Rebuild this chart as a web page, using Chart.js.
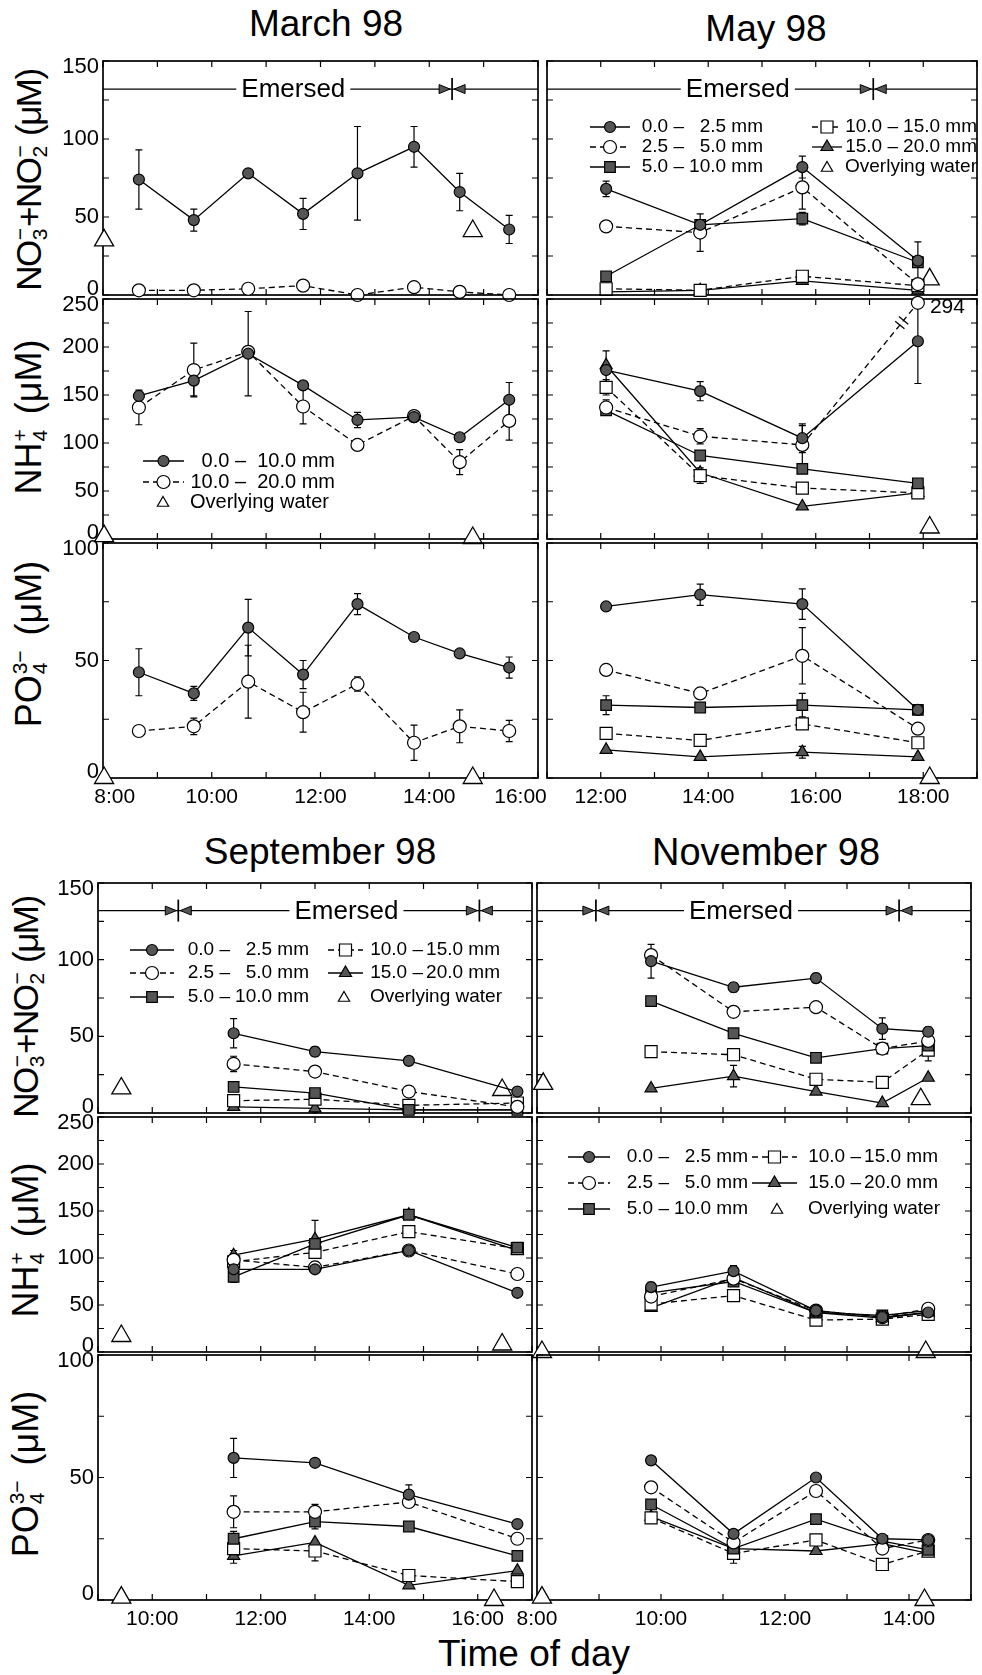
<!DOCTYPE html>
<html><head><meta charset="utf-8">
<script src="https://cdn.jsdelivr.net/npm/chart.js@4.4.0/dist/chart.umd.min.js"></script>
<style>
html,body{margin:0;padding:0;background:#fff}
body{position:relative;width:982px;height:1675px;overflow:hidden;font-family:"Liberation Sans",Arial,Helvetica,sans-serif;color:#000}
canvas{position:absolute}
.tt{position:absolute;transform:translate(-50%,-50%);white-space:nowrap;line-height:1}
.yt{position:absolute;transform:translate(-50%,-50%) rotate(-90deg);white-space:nowrap;font-size:36px;line-height:1}
.yt.n{font-size:35px;letter-spacing:-1.5px}
.ss{display:inline-flex;flex-direction:column;align-items:flex-start;font-size:21px;line-height:20px;vertical-align:14px;margin:0 1px;letter-spacing:0}
.gap{display:inline-block;width:14px}
</style></head><body>
<div class="tt" style="left:326px;top:23px;font-size:37px">March 98</div>
<div class="tt" style="left:766px;top:28px;font-size:37px">May 98</div>
<div class="tt" style="left:320px;top:851px;font-size:37px">September 98</div>
<div class="tt" style="left:766px;top:852px;font-size:38px">November 98</div>
<div class="tt" style="left:534px;top:1653px;font-size:37px">Time of day</div>
<div class="yt n" style="left:30px;top:180px">NO<span class="ss"><span>−</span><span>3</span></span>+NO<span class="ss"><span>−</span><span>2</span></span> (μM)</div>
<div class="yt" style="left:30px;top:417px">NH<span class="ss"><span>+</span><span>4</span></span><span class="gap"></span>(μM)</div>
<div class="yt" style="left:30px;top:644px">PO<span class="ss"><span>3−</span><span>4</span></span><span class="gap"></span>(μM)</div>
<div class="yt n" style="left:27px;top:1007px">NO<span class="ss"><span>−</span><span>3</span></span>+NO<span class="ss"><span>−</span><span>2</span></span> (μM)</div>
<div class="yt" style="left:27px;top:1240px">NH<span class="ss"><span>+</span><span>4</span></span><span class="gap"></span>(μM)</div>
<div class="yt" style="left:27px;top:1474px">PO<span class="ss"><span>3−</span><span>4</span></span><span class="gap"></span>(μM)</div>
<script>
// ================= DATA =================
// March 98 (two depth layers)
const marchTimes = [8.66, 9.67, 10.67, 11.68, 12.68, 13.72, 14.56, 15.47];
const marchWaterTimes = [8.02, 14.8];
const marchNO3_0_10 = [74, 48, 78, 52, 78, 95, 66, 42];
const marchNO3_0_10_err = [19, 7, 1, 10, 30, 13, 12, 9];
const marchNO3_10_20 = [3, 3, 4, 6, 0, 5, 2, 0];
const marchNO3_10_20_err = [0, 0, 0, 3, 0, 2, 0, 0];
const marchNO3_water = [35, 41];
const marchNH4_0_10 = [149, 165, 193, 160, 124, 127, 106, 145];
const marchNH4_0_10_err = [3, 16, 44, 4, 8, 2, 3, 18];
const marchNH4_10_20 = [137, 176, 195, 138, 98, 128, 80, 123];
const marchNH4_10_20_err = [18, 28, 0, 18, 5, 2, 13, 20];
const marchNH4_water = [3, 1];
const marchPO4_0_10 = [45, 36, 64, 44, 74, 60, 53, 47];
const marchPO4_0_10_err = [10, 3, 12, 6, 4.5, 1, 1, 4.5];
const marchPO4_10_20 = [20, 22, 41, 28, 40, 15, 22, 20];
const marchPO4_10_20_err = [2, 3.5, 15.5, 8.5, 3, 7.5, 7, 4.5];
const marchPO4_water = [0, 0];
const marchEmersedBounds = [14.42];
const marchEmersedText = 11.5;

// May 98
const mayTimes = [12.1, 13.85, 15.75, 17.9];
const mayWaterTimes = [18.12];
const mayNO3_0_2 = [68, 45, 82, 22];   const mayNO3_0_2_err = [5, 0, 7, 0];
const mayNO3_2_5 = [44, 40, 69, 7];    const mayNO3_2_5_err = [0, 12, 14, 0];
const mayNO3_5_10 = [12, 45, 49, 21];  const mayNO3_5_10_err = [3, 0, 4, 13];
const mayNO3_10_15 = [4, 3, 12, 6];    const mayNO3_10_15_err = [0, 3, 0, 0];
const mayNO3_15_20 = [2, 3, 9, 3];     const mayNO3_15_20_err = [0, 0, 0, 0];
const mayNO3_water = [10];
const mayNH4_0_2 = [176, 154, 105, 206]; const mayNH4_0_2_err = [20, 10, 15, 44];
const mayNH4_2_5 = [137, 107, 98, 294];  const mayNH4_2_5_err = [8, 8, 20, 0];
const mayNH4_5_10 = [134, 87, 73, 58];   const mayNH4_5_10_err = [0, 0, 0, 0];
const mayNH4_10_15 = [158, 66, 53, 48];  const mayNH4_10_15_err = [8, 8, 0, 0];
const mayNH4_15_20 = [181, 69, 34, 48];  const mayNH4_15_20_err = [0, 0, 0, 0];
const mayNH4_water = [12];
const mayPO4_0_2 = [73, 78, 74, 29];   const mayPO4_0_2_err = [0, 4.5, 6.5, 0];
const mayPO4_2_5 = [46, 36, 52, 21];   const mayPO4_2_5_err = [2, 0, 12, 0];
const mayPO4_5_10 = [31, 30, 31, 29];  const mayPO4_5_10_err = [4, 0, 5, 0];
const mayPO4_10_15 = [19, 16, 23, 15]; const mayPO4_10_15_err = [0, 2.5, 0, 0];
const mayPO4_15_20 = [12, 9, 11, 9];   const mayPO4_15_20_err = [0, 0, 2.5, 0];
const mayPO4_water = [0];
const mayEmersedBounds = [17.07];
const mayEmersedText = 14.55;

// September 98
const septTimes = [11.5, 13.0, 14.73, 16.73];
const septNO3_waterTimes = [9.43, 16.45];
const septNH4_waterTimes = [9.43, 16.45];
const septPO4_waterTimes = [9.43, 16.3];
const septNO3_0_2 = [52, 40, 34, 14];   const septNO3_0_2_err = [9.5, 3, 0, 0];
const septNO3_2_5 = [32, 27, 14, 4];    const septNO3_2_5_err = [5, 0, 3, 0];
const septNO3_5_10 = [17, 13, 2, 2];    const septNO3_5_10_err = [0, 0, 0, 0];
const septNO3_10_15 = [8, 9, 5, 6.5];   const septNO3_10_15_err = [0, 4, 0, 0];
const septNO3_15_20 = [4, 3, 2, 2];     const septNO3_15_20_err = [0, 3, 0, 0];
const septNO3_water = [16, 15];
const septNH4_0_2 = [88, 88, 108, 63];     const septNH4_0_2_err = [0, 0, 0, 0];
const septNH4_2_5 = [98, 90, 108, 83];     const septNH4_2_5_err = [6, 6, 0, 5];
const septNH4_5_10 = [80, 115, 146, 111];  const septNH4_5_10_err = [6, 0, 3, 0];
const septNH4_10_15 = [96, 106, 128, 110]; const septNH4_10_15_err = [0, 0, 0, 6];
const septNH4_15_20 = [103, 120, 146, 108];const septNH4_15_20_err = [5, 20, 0, 0];
const septNH4_water = [17, 8];
const septPO4_0_2 = [58, 56, 43, 31];     const septPO4_0_2_err = [8, 0, 4, 0];
const septPO4_2_5 = [36, 36, 40, 25];     const septPO4_2_5_err = [6.5, 3, 0, 0];
const septPO4_5_10 = [25, 32, 30, 18];    const septPO4_5_10_err = [3, 3, 0, 0];
const septPO4_10_15 = [21, 20, 10, 7.5];  const septPO4_10_15_err = [0, 4, 0, 0];
const septPO4_15_20 = [18, 23.5, 6, 12];  const septPO4_15_20_err = [3, 0, 0, 0];
const septPO4_water = [1, 0];
const septEmersedBounds = [10.48, 16.03];
const septEmersedText = 13.58;

// November 98
const novTimes = [9.84, 11.17, 12.5, 13.57, 14.31];
const novNO3_waterTimes = [8.1, 14.19];
const novNH4_waterTimes = [8.08, 14.27];
const novPO4_waterTimes = [8.08, 14.25];
const novNO3_0_2 = [99, 82, 88, 55, 53];  const novNO3_0_2_err = [11, 3, 3, 7, 3];
const novNO3_2_5 = [103, 66, 69, 42, 47]; const novNO3_2_5_err = [0, 0, 0, 0, 0];
const novNO3_5_10 = [73, 52, 36, 42, 44]; const novNO3_5_10_err = [0, 0, 0, 0, 0];
const novNO3_10_15 = [40, 38, 22, 20, 41];const novNO3_10_15_err = [0, 0, 0, 0, 7];
const novNO3_15_20 = [16, 24, 14, 6.5, 23];const novNO3_15_20_err = [0, 7, 0, 0, 0];
const novNO3_water = [19, 9];
const novNH4_0_2 = [69, 86, 44, 37, 42];  const novNH4_0_2_err = [5, 6, 4, 0, 0];
const novNH4_2_5 = [59, 78, 44, 37, 46];  const novNH4_2_5_err = [0, 0, 0, 0, 0];
const novNH4_5_10 = [63, 75, 42, 39, 44]; const novNH4_5_10_err = [0, 0, 0, 0, 0];
const novNH4_10_15 = [51, 60, 34, 35, 40];const novNH4_10_15_err = [0, 0, 0, 0, 0];
const novNH4_15_20 = [47, 79, 42, 36, 42];const novNH4_15_20_err = [0, 0, 0, 0, 0];
const novNH4_water = [0, 0];
const novPO4_0_2 = [57, 27, 50, 25, 24.5];    const novPO4_0_2_err = [0, 0, 0, 0, 0];
const novPO4_2_5 = [46, 23.5, 44.5, 21, 24.5];const novPO4_2_5_err = [0, 0, 0, 0, 0];
const novPO4_5_10 = [39, 21, 33, 24, 20.5];   const novPO4_5_10_err = [0, 0, 0, 0, 0];
const novPO4_10_15 = [33.5, 19, 24.5, 14.5, 20]; const novPO4_10_15_err = [0, 4, 0, 0, 0];
const novPO4_15_20 = [34, 21, 20, 23, 19];    const novPO4_15_20_err = [0, 0, 0, 0, 0];
const novPO4_water = [1, 0];
const novEmersedBounds = [8.95, 13.84];
const novEmersedText = 11.29;

// axis ticks / labels
const xTickHours = {march:[8,10,12,14,16], may:[12,14,16,18], sept:[10,12,14,16], nov:[8,10,12,14]};
const xRange = {march:[8,16], may:[11,19], sept:[9,17], nov:[8,15]};
const yTickValues = {NO3:[0,50,100,150], NH4:[0,50,100,150,200,250], PO4:[0,50,100]};
const yRange = {NO3:[0,150], NH4:[0,250], PO4:[0,100]};
const emersedLevel = 132;
const mayNH4BreakShownAt = 246;
const mayNH4BreakLabel = '294';
const legendDepths5 = [['0.0 –','2.5 mm'],['2.5 –','5.0 mm'],['5.0 –','10.0 mm'],['10.0 –','15.0 mm'],['15.0 –','20.0 mm']];
const legendDepths2 = [['0.0 –','10.0 mm'],['10.0 –','20.0 mm']];
const legendWater = 'Overlying water';

// ================= LAYOUT / STYLE =================
const FONT = '"Liberation Sans", Arial, Helvetica, sans-serif';
Chart.defaults.font.family = FONT;
Chart.defaults.color = '#000';
const COLS = {march:[103,538], may:[547,977], sept:[98,532], nov:[537,971]};
const ROWS = {top:[[61,295],[299,539],[543,778]], bottom:[[883,1113],[1117,1352],[1355,1600]]};
// label nudges (figure spaces) for edge labels that sit inside the frame in the original
const FS = '\u2007';
const xLabelPad = {march:{8:[2,0], 16:[0,3]}};
const STY = {
  s1:{dash:[], ps:'circle', r:5.5, fill:'#555'},
  s2:{dash:[6,4], ps:'circle', r:6.5, fill:'#fff'},
  s3:{dash:[], ps:'rect', r:7.5, fill:'#555'},
  s4:{dash:[6,4], ps:'rect', r:8.5, fill:'#fff'},
  s5:{dash:[], ps:'triangle', r:7, fill:'#555'},
  w:{dash:[], ps:'triangle', r:11, fill:'#fff'}
};
const items5 = [
  {key:'s1',col:0,row:0,text:legendDepths5[0]},{key:'s2',col:0,row:1,text:legendDepths5[1]},{key:'s3',col:0,row:2,text:legendDepths5[2]},
  {key:'s4',col:1,row:0,text:legendDepths5[3]},{key:'s5',col:1,row:1,text:legendDepths5[4]},{key:'w',col:1,row:2,text:[legendWater]}];
const items2 = [{key:'s1',col:0,row:0,text:legendDepths2[0]},{key:'s2',col:0,row:1,text:legendDepths2[1]},{key:'w',col:0,row:2,text:[legendWater]}];
const LEG_MARCH = {font:20, items:items2, rows:[162,183,203], cols:[{s0:40,s1:81,d:143,e:232,mk:60,tx:87}]};
const LEG_MAY = {font:19, items:items5, rows:[66,86,106], cols:[{s0:43,s1:83,d:137,e:216},{s0:265,s1:295,d:351,e:430,mk:280,tx:298}]};
const LEG_SEPT = {font:19, items:items5, rows:[67,90,114], cols:[{s0:32,s1:76,d:132,e:211},{s0:230,s1:265,d:325,e:402,mk:246,tx:272}]};
const LEG_NOV = {font:19, items:items5, rows:[40,66,92], cols:[{s0:31,s1:73,d:132,e:211},{s0:215,s1:260,d:324,e:401,mk:240,tx:271}]};
const MINOR_Y = 25, MINOR_X = 1;

function S5(a,b,c,d,e){return [['s1',a[0],a[1]],['s2',b[0],b[1]],['s3',c[0],c[1]],['s4',d[0],d[1]],['s5',e[0],e[1]]];}

const panels = [
 {col:'march',block:'top',row:0,kind:'NO3',times:marchTimes,
  series:[['s1',marchNO3_0_10,marchNO3_0_10_err],['s2',marchNO3_10_20,marchNO3_10_20_err]],
  water:[marchWaterTimes,marchNO3_water], emersed:{textAt:marchEmersedText,bounds:marchEmersedBounds}},
 {col:'march',block:'top',row:1,kind:'NH4',times:marchTimes,
  series:[['s1',marchNH4_0_10,marchNH4_0_10_err],['s2',marchNH4_10_20,marchNH4_10_20_err]],
  water:[marchWaterTimes,marchNH4_water], legend:LEG_MARCH},
 {col:'march',block:'top',row:2,kind:'PO4',times:marchTimes,
  series:[['s1',marchPO4_0_10,marchPO4_0_10_err],['s2',marchPO4_10_20,marchPO4_10_20_err]],
  water:[marchWaterTimes,marchPO4_water]},
 {col:'may',block:'top',row:0,kind:'NO3',times:mayTimes,
  series:S5([mayNO3_0_2,mayNO3_0_2_err],[mayNO3_2_5,mayNO3_2_5_err],[mayNO3_5_10,mayNO3_5_10_err],[mayNO3_10_15,mayNO3_10_15_err],[mayNO3_15_20,mayNO3_15_20_err]),
  water:[mayWaterTimes,mayNO3_water], emersed:{textAt:mayEmersedText,bounds:mayEmersedBounds}, legend:LEG_MAY},
 {col:'may',block:'top',row:1,kind:'NH4',times:mayTimes,
  series:S5([mayNH4_0_2,mayNH4_0_2_err],[mayNH4_2_5,mayNH4_2_5_err],[mayNH4_5_10,mayNH4_5_10_err],[mayNH4_10_15,mayNH4_10_15_err],[mayNH4_15_20,mayNH4_15_20_err]),
  water:[mayWaterTimes,mayNH4_water], breakAt:mayNH4BreakShownAt, breakLabel:mayNH4BreakLabel},
 {col:'may',block:'top',row:2,kind:'PO4',times:mayTimes,
  series:S5([mayPO4_0_2,mayPO4_0_2_err],[mayPO4_2_5,mayPO4_2_5_err],[mayPO4_5_10,mayPO4_5_10_err],[mayPO4_10_15,mayPO4_10_15_err],[mayPO4_15_20,mayPO4_15_20_err]),
  water:[mayWaterTimes,mayPO4_water]},
 {col:'sept',block:'bottom',row:0,kind:'NO3',times:septTimes,
  series:S5([septNO3_0_2,septNO3_0_2_err],[septNO3_2_5,septNO3_2_5_err],[septNO3_5_10,septNO3_5_10_err],[septNO3_10_15,septNO3_10_15_err],[septNO3_15_20,septNO3_15_20_err]),
  water:[septNO3_waterTimes,septNO3_water], emersed:{textAt:septEmersedText,bounds:septEmersedBounds}, legend:LEG_SEPT},
 {col:'sept',block:'bottom',row:1,kind:'NH4',times:septTimes,
  series:S5([septNH4_0_2,septNH4_0_2_err],[septNH4_2_5,septNH4_2_5_err],[septNH4_5_10,septNH4_5_10_err],[septNH4_10_15,septNH4_10_15_err],[septNH4_15_20,septNH4_15_20_err]),
  water:[septNH4_waterTimes,septNH4_water]},
 {col:'sept',block:'bottom',row:2,kind:'PO4',times:septTimes,
  series:S5([septPO4_0_2,septPO4_0_2_err],[septPO4_2_5,septPO4_2_5_err],[septPO4_5_10,septPO4_5_10_err],[septPO4_10_15,septPO4_10_15_err],[septPO4_15_20,septPO4_15_20_err]),
  water:[septPO4_waterTimes,septPO4_water]},
 {col:'nov',block:'bottom',row:0,kind:'NO3',times:novTimes,
  series:S5([novNO3_0_2,novNO3_0_2_err],[novNO3_2_5,novNO3_2_5_err],[novNO3_5_10,novNO3_5_10_err],[novNO3_10_15,novNO3_10_15_err],[novNO3_15_20,novNO3_15_20_err]),
  water:[novNO3_waterTimes,novNO3_water], emersed:{textAt:novEmersedText,bounds:novEmersedBounds}},
 {col:'nov',block:'bottom',row:1,kind:'NH4',times:novTimes,
  series:S5([novNH4_0_2,novNH4_0_2_err],[novNH4_2_5,novNH4_2_5_err],[novNH4_5_10,novNH4_5_10_err],[novNH4_10_15,novNH4_10_15_err],[novNH4_15_20,novNH4_15_20_err]),
  water:[novNH4_waterTimes,novNH4_water], legend:LEG_NOV},
 {col:'nov',block:'bottom',row:2,kind:'PO4',times:novTimes,
  series:S5([novPO4_0_2,novPO4_0_2_err],[novPO4_2_5,novPO4_2_5_err],[novPO4_5_10,novPO4_5_10_err],[novPO4_10_15,novPO4_10_15_err],[novPO4_15_20,novPO4_15_20_err]),
  water:[novPO4_waterTimes,novPO4_water]}
];

// ================= DRAWING HELPERS =================
function drawMarker(ctx, key, x, y, rr) {
  const s = STY[key], r = rr || s.r;
  ctx.save(); ctx.setLineDash([]);
  ctx.fillStyle = s.fill; ctx.strokeStyle = '#000'; ctx.lineWidth = 1.2;
  ctx.beginPath();
  if (s.ps === 'circle') ctx.arc(x, y, r, 0, Math.PI*2);
  else if (s.ps === 'rect') { const h = r*Math.SQRT1_2; ctx.rect(x-h, y-h, 2*h, 2*h); }
  else { for (let k=0;k<3;k++){ const a=k*2*Math.PI/3; const px=x+Math.sin(a)*r, py=y-Math.cos(a)*r; if(k) ctx.lineTo(px,py); else ctx.moveTo(px,py);} ctx.closePath(); }
  ctx.fill(); ctx.stroke(); ctx.restore();
}
function drawFrame(chart) {
  const ctx = chart.ctx, ca = chart.chartArea, xs = chart.scales.x, ys = chart.scales.y;
  ctx.save(); ctx.setLineDash([]); ctx.strokeStyle = '#000';
  ctx.lineWidth = 1.2; ctx.beginPath();
  for (let h = Math.ceil(xs.min); h <= xs.max + 1e-6; h += MINOR_X) {
    const x = xs.getPixelForValue(h);
    ctx.moveTo(x, ca.bottom); ctx.lineTo(x, ca.bottom - 6);
    ctx.moveTo(x, ca.top); ctx.lineTo(x, ca.top + 6);
  }
  for (let v = ys.min; v <= ys.max + 1e-6; v += MINOR_Y) {
    const y = ys.getPixelForValue(v);
    ctx.moveTo(ca.left, y); ctx.lineTo(ca.left + 6, y);
    ctx.moveTo(ca.right, y); ctx.lineTo(ca.right - 6, y);
  }
  ctx.stroke();
  ctx.lineWidth = 1.7;
  ctx.strokeRect(ca.left, ca.top, ca.right - ca.left, ca.bottom - ca.top);
  ctx.restore();
}
function drawErrors(chart) {
  const ctx = chart.ctx, ys = chart.scales.y;
  ctx.save(); ctx.setLineDash([]); ctx.strokeStyle = '#000'; ctx.lineWidth = 1.2;
  chart.data.datasets.forEach((ds, di) => {
    if (!ds.errs) return;
    const meta = chart.getDatasetMeta(di);
    ds.errs.forEach((e, i) => {
      if (!e) return;
      const pt = meta.data[i], v = ds.data[i].y;
      const y1 = ys.getPixelForValue(v + e), y2 = ys.getPixelForValue(Math.max(v - e, ys.min));
      ctx.beginPath();
      ctx.moveTo(pt.x, y1); ctx.lineTo(pt.x, y2);
      ctx.moveTo(pt.x - 3.5, y1); ctx.lineTo(pt.x + 3.5, y1);
      ctx.moveTo(pt.x - 3.5, y2); ctx.lineTo(pt.x + 3.5, y2);
      ctx.stroke();
    });
  });
  ctx.restore();
}
function drawEmersed(chart, em) {
  const ctx = chart.ctx, ca = chart.chartArea, xs = chart.scales.x, ys = chart.scales.y;
  const y = ys.getPixelForValue(emersedLevel);
  ctx.save(); ctx.setLineDash([]);
  ctx.font = '26px ' + FONT;
  const tx = xs.getPixelForValue(em.textAt), tw = ctx.measureText('Emersed').width;
  ctx.strokeStyle = '#000'; ctx.lineWidth = 1.3;
  ctx.beginPath();
  ctx.moveTo(ca.left, y); ctx.lineTo(tx - tw/2 - 5, y);
  ctx.moveTo(tx + tw/2 + 5, y); ctx.lineTo(ca.right, y);
  ctx.stroke();
  ctx.fillStyle = '#000'; ctx.textAlign = 'center'; ctx.textBaseline = 'middle';
  ctx.fillText('Emersed', tx, y + 1);
  em.bounds.forEach(b => {
    const bx = xs.getPixelForValue(b);
    ctx.lineWidth = 1.7; ctx.beginPath(); ctx.moveTo(bx, y - 11); ctx.lineTo(bx, y + 11); ctx.stroke();
    ctx.lineWidth = 1; ctx.fillStyle = '#555';
    [-1, 1].forEach(s => {
      ctx.beginPath(); ctx.moveTo(bx + s*2, y); ctx.lineTo(bx + s*13, y - 4.5); ctx.lineTo(bx + s*13, y + 4.5); ctx.closePath();
      ctx.fill(); ctx.stroke();
    });
  });
  ctx.restore();
}
function drawLegend(chart, lg) {
  const ctx = chart.ctx, ca = chart.chartArea;
  ctx.save();
  ctx.font = lg.font + 'px ' + FONT; ctx.fillStyle = '#000'; ctx.textBaseline = 'middle';
  lg.items.forEach(it => {
    const c = lg.cols[it.col], y = ca.top + lg.rows[it.row];
    if (it.key === 'w') {
      drawMarker(ctx, 'w', ca.left + c.mk, y + 1, 6.5);
      ctx.fillStyle = '#000'; ctx.textAlign = 'left'; ctx.fillText(it.text[0], ca.left + c.tx, y);
      return;
    }
    const st = STY[it.key];
    ctx.strokeStyle = '#000'; ctx.lineWidth = 1.3; ctx.setLineDash(st.dash);
    ctx.beginPath(); ctx.moveTo(ca.left + c.s0, y); ctx.lineTo(ca.left + c.s1, y); ctx.stroke(); ctx.setLineDash([]);
    drawMarker(ctx, it.key, ca.left + (c.s0 + c.s1)/2, y);
    ctx.fillStyle = '#000'; ctx.textAlign = 'right';
    ctx.fillText(it.text[0], ca.left + c.d, y);
    ctx.fillText(it.text[1], ca.left + c.e, y);
  });
  ctx.restore();
}
function drawBreak(chart, p) {
  const ctx = chart.ctx;
  const yMax = yRange[p.kind][1];
  chart.data.datasets.forEach((ds, di) => {
    if (!ds.raw) return;
    ds.raw.forEach((v, i) => {
      if (v <= yMax || i === 0) return;
      const meta = chart.getDatasetMeta(di);
      const a = meta.data[i-1], b = meta.data[i];
      const t = 0.86, mx = a.x + (b.x - a.x)*t, my = a.y + (b.y - a.y)*t;
      const dx = b.x - a.x, dy = b.y - a.y, L = Math.hypot(dx, dy);
      const ux = dx/L, uy = dy/L, nx = -uy, ny = ux;
      ctx.save(); ctx.setLineDash([]); ctx.strokeStyle = '#000'; ctx.lineWidth = 1.3;
      [-3, 3].forEach(o => {
        ctx.beginPath();
        ctx.moveTo(mx + ux*o - nx*6, my + uy*o - ny*6);
        ctx.lineTo(mx + ux*o + nx*6, my + uy*o + ny*6);
        ctx.stroke();
      });
      ctx.font = '21px ' + FONT; ctx.fillStyle = '#000'; ctx.textAlign = 'left'; ctx.textBaseline = 'middle';
      ctx.fillText(p.breakLabel, b.x + 12, b.y + 4);
      ctx.restore();
    });
  });
}

// ================= BUILD CHARTS =================
function buildDatasets(p) {
  const yMax = yRange[p.kind][1];
  const ds = p.series.map(([key, vals, errs]) => {
    const s = STY[key];
    return {
      data: p.times.map((t, i) => ({x: t, y: vals[i] > yMax ? p.breakAt : vals[i]})),
      raw: vals, errs: errs,
      showLine: true, borderColor: '#000', borderWidth: 1.3, borderDash: s.dash,
      pointStyle: s.ps, pointRadius: s.r, pointHoverRadius: s.r,
      pointBackgroundColor: s.fill, pointBorderColor: '#000', pointBorderWidth: 1.2,
      tension: 0, fill: false, clip: false
    };
  });
  ds.push({
    data: p.water[0].map((t, i) => ({x: t, y: p.water[1][i]})),
    showLine: false, pointStyle: 'triangle', pointRadius: STY.w.r, pointHoverRadius: STY.w.r,
    pointBackgroundColor: '#fff', pointBorderColor: '#000', pointBorderWidth: 1.3, clip: false
  });
  return ds;
}

panels.forEach((p, idx) => {
  const [L, R] = COLS[p.col];
  const [T, B] = ROWS[p.block][p.row];
  const isLeft = (p.col === 'march' || p.col === 'sept');
  const isBottom = p.row === 2;
  const padL = isLeft ? L : 30, padR = 32, padT = 14, padB = isBottom ? 42 : 14;
  const x0 = L - padL, y0 = T - padT;
  const cw = (R - L) + padL + padR, ch = (B - T) + padT + padB;
  const cv = document.createElement('canvas');
  cv.width = cw; cv.height = ch;
  cv.style.left = x0 + 'px'; cv.style.top = y0 + 'px';
  cv.style.width = cw + 'px'; cv.style.height = ch + 'px';
  document.body.appendChild(cv);
  const xt = xTickHours[p.col], yt = yTickValues[p.kind];
  const [yMin, yMax] = yRange[p.kind];
  const pads = xLabelPad[p.col] || {};
  new Chart(cv, {
    type: 'scatter',
    data: {datasets: buildDatasets(p)},
    options: {
      responsive: false, animation: false, devicePixelRatio: 1,
      layout: {padding: {left: 0, right: padR, top: padT, bottom: 0}},
      plugins: {legend: {display: false}, tooltip: {enabled: false}},
      events: [],
      scales: {
        x: {
          type: 'linear', min: xRange[p.col][0], max: xRange[p.col][1],
          grid: {display: false, drawTicks: false}, border: {display: false},
          ticks: {display: isBottom, font: {size: 21, family: FONT}, color: '#000', padding: 7, maxRotation: 0, autoSkip: false,
                  callback: v => { const pd = pads[v] || [0,0]; return FS.repeat(pd[0]) + v + ':00' + FS.repeat(pd[1]); }},
          afterBuildTicks: s => { s.ticks = xt.map(v => ({value: v})); },
          afterFit: s => { s.height = padB; s.paddingLeft = 0; s.paddingRight = 0; }
        },
        y: {
          type: 'linear', min: yMin, max: yMax,
          grid: {display: false, drawTicks: false}, border: {display: false},
          ticks: {display: isLeft, font: {size: 22, family: FONT, lineHeight: 0.55}, color: '#000', padding: 4,
                  callback: v => v === yMax ? ['', String(v)] : (v === yMin ? [String(v), ''] : String(v))},
          afterBuildTicks: s => { s.ticks = yt.map(v => ({value: v})); },
          afterFit: s => { s.width = padL; s.paddingTop = 0; s.paddingBottom = 0; }
        }
      }
    },
    plugins: [{
      id: 'panel' + idx,
      beforeDatasetsDraw(chart) { drawFrame(chart); drawErrors(chart); },
      afterDatasetsDraw(chart) {
        if (p.emersed) drawEmersed(chart, p.emersed);
        if (p.legend) drawLegend(chart, p.legend);
        if (p.breakAt) drawBreak(chart, p);
      }
    }]
  });
});
</script>
</body></html>
